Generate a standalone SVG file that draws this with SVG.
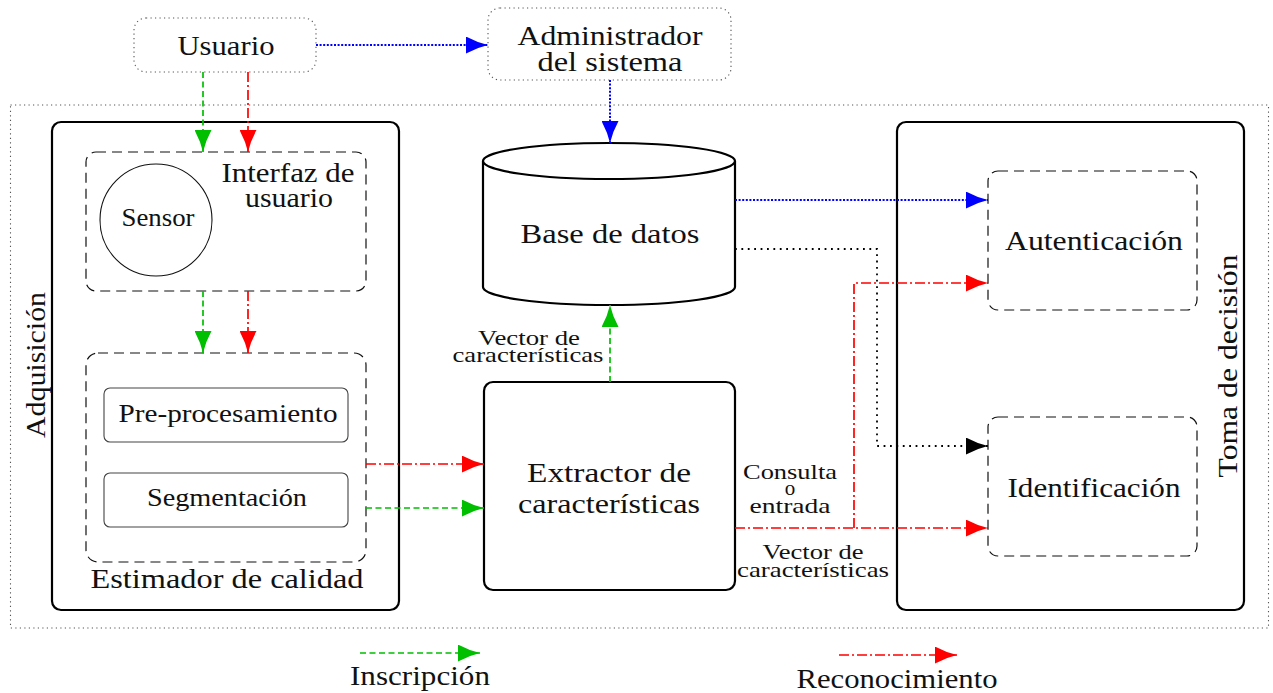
<svg xmlns="http://www.w3.org/2000/svg" width="1273" height="693" viewBox="0 0 1273 693">
<style>
text{font-family:"Liberation Serif","Times New Roman",serif;fill:#111;text-anchor:middle}
.L{font-size:28px}
.M{font-size:25px}
.S{font-size:21px}
.box{fill:none;stroke:#000;stroke-width:2.2}
.dash{fill:none;stroke:#111;stroke-width:1.2;stroke-dasharray:10 6}
.dot{fill:none;stroke:#555;stroke-width:1.1;stroke-dasharray:1.2 3.3}
.sub{fill:none;stroke:#444;stroke-width:1.1}
.g{fill:none;stroke:#00bf00;stroke-width:1.7;stroke-dasharray:6 3.5}
.r{fill:none;stroke:#ff0000;stroke-width:1.7;stroke-dasharray:10 3 2 3}
.b{fill:none;stroke:#0000ff;stroke-width:2;stroke-dasharray:2 1.6}
.k{fill:none;stroke:#000;stroke-width:1.8;stroke-dasharray:1.8 4.6}
</style>
<defs>
<marker id="ag" markerUnits="userSpaceOnUse" viewBox="0 0 22 17" refX="22" refY="8.5" markerWidth="22" markerHeight="17" orient="auto"><path d="M0,0 Q11,6 22,8.5 Q11,11 0,17 Z" fill="#00bf00"/></marker>
<marker id="ar" markerUnits="userSpaceOnUse" viewBox="0 0 22 17" refX="22" refY="8.5" markerWidth="22" markerHeight="17" orient="auto"><path d="M0,0 Q11,6 22,8.5 Q11,11 0,17 Z" fill="#ff0000"/></marker>
<marker id="ab" markerUnits="userSpaceOnUse" viewBox="0 0 22 17" refX="22" refY="8.5" markerWidth="22" markerHeight="17" orient="auto"><path d="M0,0 Q11,6 22,8.5 Q11,11 0,17 Z" fill="#0000ff"/></marker>
<marker id="ak" markerUnits="userSpaceOnUse" viewBox="0 0 22 17" refX="22" refY="8.5" markerWidth="22" markerHeight="17" orient="auto"><path d="M0,0 Q11,6 22,8.5 Q11,11 0,17 Z" fill="#000"/></marker>
</defs>
<rect width="1273" height="693" fill="#fff"/>
<rect id="frame" x="10.5" y="105" width="1258" height="523" class="dot"/>

<g id="usuario">
<rect x="134" y="18" width="182" height="54" rx="12" class="dot"/>
<text class="L" x="226" y="55" textLength="97" lengthAdjust="spacingAndGlyphs">Usuario</text>
</g>
<g id="admin">
<rect x="488" y="8" width="243" height="72" rx="12" class="dot"/>
<text class="L" x="610" y="45" textLength="185" lengthAdjust="spacingAndGlyphs">Administrador</text>
<text class="L" x="610" y="71" textLength="145" lengthAdjust="spacingAndGlyphs">del sistema</text>
</g>

<g id="adquisicion">
<rect x="52" y="122" width="347" height="488" rx="9" class="box"/>
<text class="L" transform="translate(45,365) rotate(-90)" textLength="146" lengthAdjust="spacingAndGlyphs">Adquisición</text>
</g>
<g id="interfaz">
<rect x="86" y="152" width="280" height="139" rx="10" class="dash"/>
<text class="L" x="288" y="182" textLength="133" lengthAdjust="spacingAndGlyphs">Interfaz de</text>
<text class="L" x="289" y="207" textLength="88" lengthAdjust="spacingAndGlyphs">usuario</text>
</g>
<g id="sensor">
<circle cx="156" cy="220" r="56" fill="none" stroke="#111" stroke-width="1.1"/>
<text class="M" x="158" y="226" textLength="73" lengthAdjust="spacingAndGlyphs">Sensor</text>
</g>
<g id="estimador">
<rect x="86" y="353" width="280" height="209" rx="12" class="dash"/>
<text class="L" x="227" y="588" textLength="273" lengthAdjust="spacingAndGlyphs">Estimador de calidad</text>
</g>
<g id="preproc">
<rect x="104" y="388" width="244" height="54" rx="6" class="sub"/>
<text class="M" x="228" y="422" textLength="219" lengthAdjust="spacingAndGlyphs">Pre-procesamiento</text>
</g>
<g id="segmentacion">
<rect x="104" y="473" width="244" height="54" rx="6" class="sub"/>
<text class="M" x="227" y="506" textLength="160" lengthAdjust="spacingAndGlyphs">Segmentación</text>
</g>

<g id="basedatos">
<path d="M483,161 L483,287 A126,18 0 0 0 735,287 L735,161" fill="#fff" stroke="#000" stroke-width="2.2"/>
<ellipse cx="609" cy="161" rx="126" ry="18" fill="#fff" stroke="#000" stroke-width="2.2"/>
<text class="L" x="610" y="243" textLength="179" lengthAdjust="spacingAndGlyphs">Base de datos</text>
</g>
<g id="extractor">
<rect x="484" y="382" width="251" height="208" rx="9" class="box"/>
<text class="L" x="609" y="482" textLength="164" lengthAdjust="spacingAndGlyphs">Extractor de</text>
<text class="L" x="609" y="513" textLength="182" lengthAdjust="spacingAndGlyphs">características</text>
</g>

<g id="toma">
<rect x="897" y="122" width="347" height="488" rx="9" class="box"/>
<text class="L" transform="translate(1237,366) rotate(-90)" textLength="223" lengthAdjust="spacingAndGlyphs">Toma de decisión</text>
</g>
<g id="autenticacion">
<rect x="988" y="171" width="209" height="139" rx="10" class="dash"/>
<text class="L" x="1094" y="250" textLength="178" lengthAdjust="spacingAndGlyphs">Autenticación</text>
</g>
<g id="identificacion">
<rect x="988" y="417" width="209" height="139" rx="10" class="dash"/>
<text class="L" x="1094" y="497" textLength="173" lengthAdjust="spacingAndGlyphs">Identificación</text>
</g>

<g id="connectors">
<path d="M316,45 L488,45" class="b" marker-end="url(#ab)"/>
<path d="M610,80 L610,143" class="b" marker-end="url(#ab)"/>
<path d="M203,72 L203,152" class="g" marker-end="url(#ag)"/>
<path d="M248,72 L248,152" class="r" marker-end="url(#ar)"/>
<path d="M203,291 L203,353" class="g" marker-end="url(#ag)"/>
<path d="M248,291 L248,353" class="r" marker-end="url(#ar)"/>
<path d="M366,464 L484,464" class="r" marker-end="url(#ar)"/>
<path d="M366,508 L484,508" class="g" marker-end="url(#ag)"/>
<path d="M610,382 L610,305" class="g" marker-end="url(#ag)"/>
<path d="M735,200 L988,200" class="b" marker-end="url(#ab)"/>
<path d="M735,249 L877,249 L877,446 L988,446" class="k" marker-end="url(#ak)"/>
<path d="M735,528 L988,528" class="r" marker-end="url(#ar)"/>
<path d="M854,528 L854,283 L988,283" class="r" marker-end="url(#ar)"/>
</g>

<g id="labels">
<text class="S" x="529" y="345" textLength="102" lengthAdjust="spacingAndGlyphs">Vector de</text>
<text class="S" x="528" y="362" textLength="151" lengthAdjust="spacingAndGlyphs">características</text>
<text class="S" x="790" y="479" textLength="94" lengthAdjust="spacingAndGlyphs">Consulta</text>
<text class="S" x="790" y="495">o</text>
<text class="S" x="790" y="513" textLength="81" lengthAdjust="spacingAndGlyphs">entrada</text>
<text class="S" x="813" y="559" textLength="101" lengthAdjust="spacingAndGlyphs">Vector de</text>
<text class="S" x="813" y="577" textLength="152" lengthAdjust="spacingAndGlyphs">características</text>
</g>

<g id="legend">
<path d="M360,653 L480,653" class="g" marker-end="url(#ag)"/>
<text class="L" x="420" y="685" textLength="140" lengthAdjust="spacingAndGlyphs">Inscripción</text>
<path d="M839,655 L957,655" class="r" marker-end="url(#ar)"/>
<text class="L" x="897" y="688" textLength="201" lengthAdjust="spacingAndGlyphs">Reconocimiento</text>
</g>
</svg>
